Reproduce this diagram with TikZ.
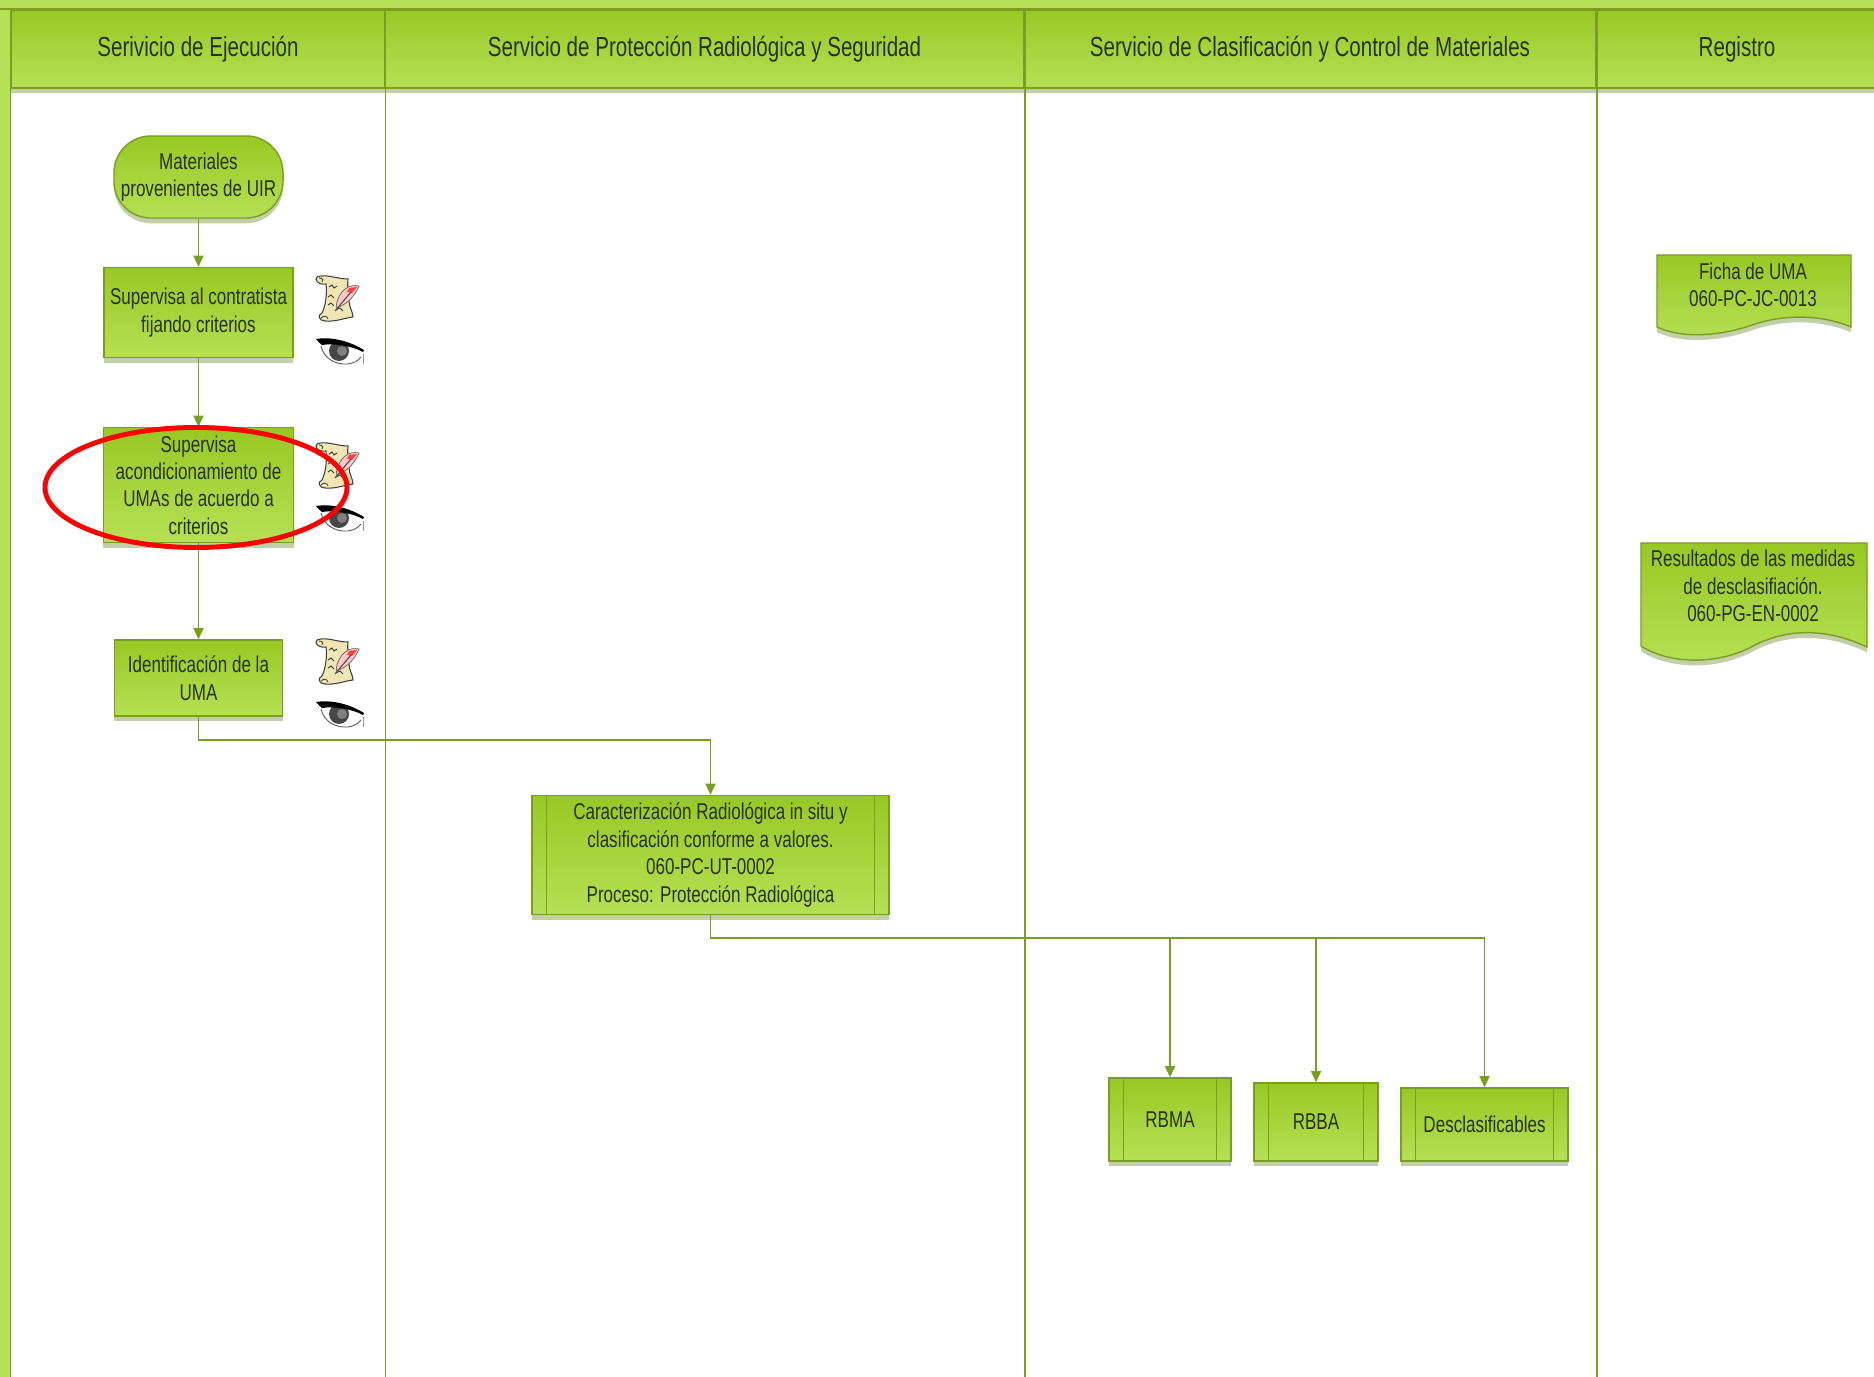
\documentclass[tikz,border=0pt]{standalone}
\usepackage{fontspec}
\setmainfont[FakeStretch=0.745]{Liberation Sans}
\usepackage{xcolor}
\usepackage{tikz}
\usetikzlibrary{arrows.meta,calc,shadows}
\definecolor{grtop}{HTML}{98C824}
\definecolor{grbot}{HTML}{B6E055}
\definecolor{grline}{HTML}{7A9E22}
\definecolor{grshadow}{HTML}{C3CFA8}
\definecolor{txtdark}{HTML}{26330C}
\definecolor{parchment}{HTML}{F0E6B4}
\begin{document}
\begin{tikzpicture}[
    x=0.01cm, y=-0.01cm,
    greenfill/.style={draw=grline, line width=0.4pt, top color=grtop, bottom color=grbot},
    softshadow/.style={drop shadow={shadow xshift=0pt, shadow yshift=-1.5pt, fill=grshadow, opacity=1}},
    cell/.style={rectangle, greenfill, text=txtdark, inner sep=0pt, align=center,
        font=\fontsize{7.85}{9.6}\selectfont, minimum height=0.78cm},
    process/.style={rectangle, greenfill, softshadow, text=txtdark, inner sep=0pt, align=center,
        font=\fontsize{6.5}{7.8}\selectfont},
    terminal/.style={process, rounded corners=10.5pt},
    docshape/.style={greenfill, softshadow},
    doctext/.style={text=txtdark, inner sep=0pt, align=center, font=\fontsize{6.5}{7.8}\selectfont},
    lane/.style={draw=grline, line width=0.35pt},
    arrow/.style={->, >={Triangle[length=3.2pt,width=2.9pt]}, draw=grline, line width=0.4pt},
    scrollicon/.pic={
        \draw[fill=parchment, draw=black!75, line width=0.3pt]
            (5,1) .. controls (14,0) and (22,4) .. (32,4) .. controls (31,14) and (33,18) .. (33,26)
            .. controls (33,32) and (37,37) .. (37,42) .. controls (28,43) and (20,47) .. (9,46)
            .. controls (3,46) and (1,40) .. (6,38) .. controls (10,30) and (11,18) .. (10,9)
            .. controls (6,10) and (0,8) .. (0,4) .. controls (0,2) and (2,1) .. (5,1) -- cycle;
        \draw[black!75, line width=0.25pt] (3,3) .. controls (7,3) and (8,6) .. (6,7);
        \draw[black!75, line width=0.25pt] (5,43) .. controls (8,40) and (11,41) .. (12,44);
        \draw[black!80, line width=0.25pt] (13,12) -- (16,10) -- (18,13) -- (21,11);
        \draw[black!80, line width=0.25pt] (12,22) -- (15,20) -- (18,23);
        \draw[black!80, line width=0.25pt] (12,30) -- (15,28) -- (18,31);
        \draw[black!80, line width=0.25pt] (20,35) -- (24,33) -- (27,36);
        \draw[fill=red!22!white, draw=black!60, line width=0.2pt]
            (43,11) .. controls (34,9) and (26,14) .. (22,24) .. controls (20,29) and (20,32) .. (21,33)
            .. controls (28,30) and (37,25) .. (43,11) -- cycle;
        \fill[red!75!white] (41,12) -- (33,13) -- (31,17) -- (36,18) -- cycle;
        \draw[black!70, line width=0.3pt] (19,36) -- (35,17);
    },
    eyeicon/.pic={
        \fill[white] (2,9) .. controls (10,2) and (30,2) .. (48,17) .. controls (40,26) and (15,32) .. (2,9) -- cycle;
        \draw[black!65, line width=0.25pt] (5,9) .. controls (8,22) and (20,28) .. (32,27)
            .. controls (38,26) and (42,24) .. (45,20);
        \draw[black!40, line width=0.25pt] (47,17) -- (47,27);
        \fill[black!72] (23,14) circle (10);
        \fill[black!50] (26,14) circle (5);
        \fill[black] (0,2) .. controls (12,0) and (30,2) .. (48,13) -- (47,15)
            .. controls (36,9) and (18,6) .. (6,8)
            .. controls (4,6) and (2,5) .. (0,2) -- cycle;
    },
]
    \useasboundingbox (0,0) rectangle (1874,1377);

    \fill[grbot] (0,0) rectangle (1874,9);
    \fill[grbot] (0,9) rectangle (10,1377);
    \draw[lane] (0,9) -- (1874,9);

    \fill[grshadow] (11,88) rectangle (1874,93);
    \node[cell, minimum width=3.74cm] (hejec) at (198,49) {Serivicio de Ejecución};
    \node[cell, minimum width=6.39cm] (hprot) at (704.5,49) {Servicio de Protección Radiológica y Seguridad};
    \node[cell, minimum width=5.72cm] (hclas) at (1310,49) {Servicio de Clasificación y Control de Materiales};
    \node[cell, minimum width=2.82cm] (hreg) at (1737,49) {Registro};

    \coordinate (bottom) at (0,1377);
    \draw[lane] (hejec.north west) -- (hejec.north west |- bottom);
    \draw[lane] (hejec.north east) -- (hejec.north east |- bottom);
    \draw[lane] (hprot.north east) -- (hprot.north east |- bottom);
    \draw[lane] (hclas.north east) -- (hclas.north east |- bottom);

    \node[terminal, minimum width=1.69cm, minimum height=0.82cm] (mat) at (198.5,177) {Materiales\\provenientes de UIR};
    \node[process, minimum width=1.89cm, minimum height=0.90cm] (sup1) at (198.5,312.5) {Supervisa al contratista\\fijando criterios};
    \node[process, minimum width=1.90cm, minimum height=1.15cm] (sup2) at (198.5,485) {Supervisa\\acondicionamiento de\\UMAs de acuerdo a\\criterios};
    \node[process, minimum width=1.68cm, minimum height=0.76cm] (ident) at (198.5,678) {Identificación de la\\UMA};

    \node[process, minimum width=3.57cm, minimum height=1.19cm] (carac) at (710.5,855) {Caracterización Radiológica in situ y\\clasificación conforme a valores.\\060-PC-UT-0002\\Proceso: Protección Radiológica};
    \node[process, minimum width=1.22cm, minimum height=0.83cm] (rbma) at (1170,1119.5) {RBMA};
    \node[process, minimum width=1.24cm, minimum height=0.78cm] (rbba) at (1316,1122) {RBBA};
    \node[process, minimum width=1.67cm, minimum height=0.73cm] (desc) at (1484.5,1124.5) {Desclasificables};
    \foreach \n in {carac,rbma,rbba,desc}{
        \draw[lane] ($(\n.north west)+(15,0)$) -- ($(\n.south west)+(15,0)$);
        \draw[lane] ($(\n.north east)+(-15,0)$) -- ($(\n.south east)+(-15,0)$);
    }

    \draw[docshape] (1657,255) -- (1851,255) -- (1851,327)
        .. controls (1825,316) and (1790,313) .. (1755,324)
        .. controls (1725,335) and (1685,340) .. (1657,327) -- cycle;
    \node[doctext] (ficha) at (1753,285) {Ficha de UMA\\060-PC-JC-0013};
    \draw[docshape] (1641,543) -- (1867,543) -- (1867,647)
        .. controls (1835,632) and (1795,625) .. (1755,645)
        .. controls (1720,665) and (1670,665) .. (1641,646) -- cycle;
    \node[doctext] (medidas) at (1753,586) {Resultados de las medidas\\de desclasifiación.\\060-PG-EN-0002};

    \draw[arrow] (mat) -- (sup1);
    \draw[arrow] (sup1) -- (sup2);
    \draw[arrow] (sup2) -- (ident);
    \coordinate (busa) at (198.5,740);
    \coordinate (busb) at (710.5,938);
    \draw[arrow] (ident) -- (busa) -| (carac);
    \draw[arrow] (carac) -- (busb) -| (desc);
    \draw[arrow] (busb -| rbma) -- (rbma);
    \draw[arrow] (busb -| rbba) -- (rbba);

    \foreach \y/\name in {275/a,442/b,638/c}{
        \pic (scroll\name) at (316,\y) {scrollicon};
        \pic (eye\name) at (316,\y+62) {eyeicon};
    }

    \draw[red, line width=1.4pt] (196,487.5) ellipse (151 and 60);
\end{tikzpicture}
\end{document}
